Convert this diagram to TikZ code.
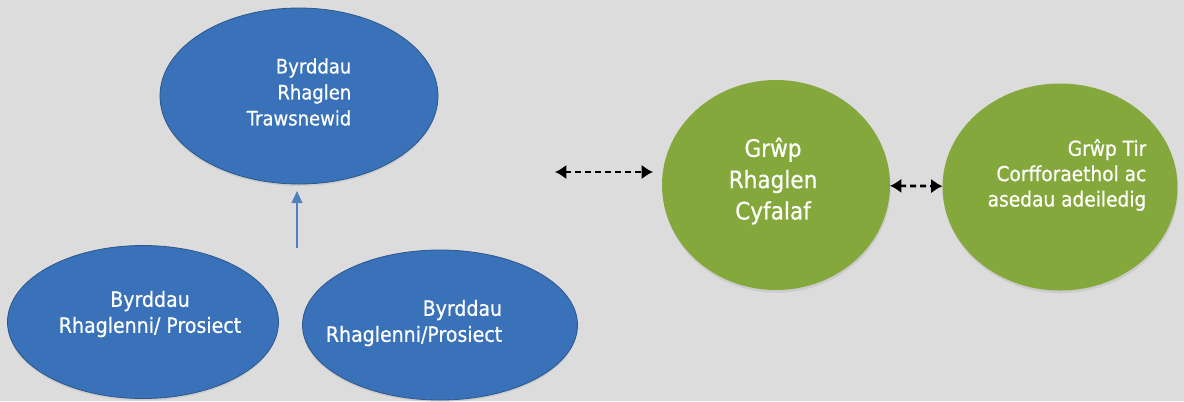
\documentclass[tikz,border=0pt]{standalone}
\usepackage{fontspec}
\setmainfont{DejaVu Sans}[FakeStretch=0.9, FakeBold=0.6]
\usetikzlibrary{shapes,arrows.meta,positioning,shadows}

\definecolor{bgGray}{RGB}{220,220,220}
\definecolor{boardBlue}{RGB}{58,114,185}
\definecolor{boardEdge}{RGB}{45,86,142}
\definecolor{groupGreen}{RGB}{133,168,60}
\definecolor{linkBlue}{RGB}{79,129,189}

\newcommand{\boardfont}{\fontsize{15}{19.5}\selectfont}
\newcommand{\lowfont}{\fontsize{15.8}{19.5}\selectfont}
\newcommand{\bigfont}{\fontsize{18}{23.5}\selectfont}
\newcommand{\smallfont}{\fontsize{15.5}{19}\selectfont}

\tikzset{
	board/.style={ellipse, fill=boardBlue, draw=boardEdge, line width=0.6pt, inner sep=0pt, outer sep=0pt,
		drop shadow={opacity=0.18, shadow xshift=0pt, shadow yshift=-1.5pt}},
	group/.style={ellipse, fill=groupGreen, inner sep=0pt, outer sep=0pt,
		drop shadow={opacity=0.18, shadow xshift=0.5pt, shadow yshift=-2pt}},
	lbl/.style={text=white, inner sep=0pt},
	linkarrow/.style={<->, >={Latex[length=8.5pt,width=11pt]}, line width=2pt, dash pattern=on 4.5pt off 3pt},
	uparrow/.style={-{Triangle[length=9pt,width=8pt]}, draw=linkBlue, fill=linkBlue, line width=1.1pt}
}

\begin{document}
\begin{tikzpicture}[x=0.75pt, y=-0.75pt]
	\fill[bgGray] (0,0) rectangle (1184,401);
	\useasboundingbox (0,0) rectangle (1184,401);

	\node[board, minimum width=208.5pt, minimum height=132pt] (1) at (299,96) {};
	\node[board, minimum width=203.25pt, minimum height=114.75pt] (2) at (143,322) {};
	\node[board, minimum width=206.25pt, minimum height=112.5pt] (3) at (440,325) {};
	\node[group, minimum width=171pt, minimum height=157.5pt] (4) at (776,185) {};
	\node[group, minimum width=176.25pt, minimum height=155.25pt] (5) at (1060,187) {};

	\node[lbl, font=\boardfont, align=right] (t1) at (299,92) {Byrddau\\Rhaglen\\Trawsnewid};
	\node[lbl, font=\lowfont, align=center] (t2) at (150,314) {Byrddau\\Rhaglenni/ Prosiect};
	\node[lbl, font=\lowfont, align=right] (t3) at (414,323) {Byrddau\\Rhaglenni/Prosiect};
	\node[lbl, font=\bigfont, align=center] (t4) at (773,181) {Grŵp\\Rhaglen\\Cyfalaf};
	\node[lbl, font=\smallfont, align=right] (t5) at (1067,175) {Grŵp Tir\\Corfforaethol ac\\asedau adeiledig};

	\coordinate (a) at (297,248);
	\coordinate (b) at (555,172);

	\draw[uparrow] (a) -- ([yshift=-5.25pt]a |- 1.south);
	\path[linkarrow]
	(b) edge[shorten >=6.75pt] (b -| 4.west)
	(4) edge (5);
\end{tikzpicture}
\end{document}
